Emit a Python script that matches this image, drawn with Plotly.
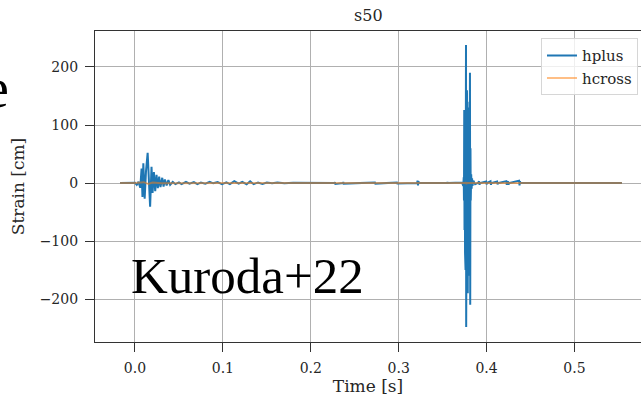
import plotly.graph_objects as go

# ---- data ----
hplus_t = [
    -0.017, -0.010, -0.004, 0.000, 0.002, 0.004, 0.006, 0.0075, 0.0085, 0.0095,
    0.011, 0.0125, 0.0144, 0.016, 0.0172, 0.0188, 0.020, 0.0215, 0.023, 0.0245,
    0.026, 0.0275, 0.029, 0.031, 0.0325, 0.034, 0.036, 0.038, 0.040,
    0.043, 0.046, 0.050, 0.053, 0.058, 0.062, 0.067, 0.071, 0.075, 0.080,
    0.085, 0.089, 0.094, 0.099, 0.104, 0.108, 0.113, 0.118, 0.122, 0.127,
    0.131, 0.135, 0.140, 0.145, 0.150, 0.156, 0.162, 0.170, 0.180, 0.190,
    0.2270, 0.2275, 0.2280, 0.2365, 0.2370, 0.2375, 0.2725, 0.2730, 0.2735,
    0.2975, 0.2980, 0.2985, 0.3210, 0.3215, 0.3220, 0.3225, 0.3230,
    0.355, 0.3555, 0.356, 0.370, 0.372,
    0.3735, 0.3740, 0.3743, 0.3746, 0.3749, 0.3752, 0.3755, 0.3758, 0.3761,
    0.3764, 0.3766, 0.3768, 0.3771, 0.3774, 0.3777, 0.3780, 0.3783, 0.3786,
    0.3789, 0.3792, 0.3795, 0.3798, 0.3801, 0.3805, 0.3808, 0.3811, 0.3814,
    0.3817, 0.3820, 0.3825, 0.3830, 0.3835, 0.3840, 0.3850, 0.3870, 0.3900,
    0.3915, 0.3920, 0.3925, 0.3995, 0.4000, 0.4005, 0.4045, 0.4050, 0.4055,
    0.4120, 0.4125, 0.4130, 0.4225, 0.4230, 0.4235, 0.4245, 0.4250, 0.4255,
    0.4370, 0.4375, 0.4380, 0.4385, 0.4450, 0.500, 0.554,
]
hplus_v = [
    0, 0, 0, 0.5, -3, 2, -8, 25, -24, 34,
    -27, 20, 52, -10, -41, 28, -17, 19, -14, 14,
    -9, 11, -7, 9, -6, 6, -4, 5, -3,
    2, -2, 1, -2, 2, -1, 1.5, -2, 1, -1,
    2, -0.5, 1.5, -2, 1, -2, 3, -1, 2, -2,
    3, -2, 1, -1.5, 1, -0.5, 1, -0.5, 0.3, 0,
    0, 1.5, -1.5, 0, 1.5, -1, 0, 1, -1,
    0, 1, -1, 0, 4, -4, 3, 0,
    0, 1.5, 0, 0, 1,
    -5, 10, -30, 126, -81, 90, -120, 140, -150,
    180, 238, -248, 150, -180, 160, -170, 140, -190,
    120, -150, 130, -160, 110, -140, 150, 190, -210,
    60, -30, 15, -10, 8, -5, 4, -2, 0,
    3, -3, 0, 2.5, -2.5, 0, 3, -3, 0,
    2.5, -2.5, 0, 3, -3, 0, 3, -3, 0,
    4, -4, 3, 0, 0, 0, 0,
]
hcross_t = [-0.017, 0.000, 0.010, 0.015, 0.020, 0.030, 0.100, 0.376, 0.3765, 0.377, 0.378, 0.554]
hcross_v = [0, 0, 1.5, -1.5, 1, -0.5, 0, 0, 1.5, -1.5, 0, 0]

x_ticks = [0.0, 0.1, 0.2, 0.3, 0.4, 0.5]
y_ticks = [-200, -100, 0, 100, 200]

SERIF = "DejaVu Serif"

fig = go.Figure()
fig.add_trace(go.Scatter(x=hplus_t, y=hplus_v, mode="lines", name="hplus",
                         line=dict(color="#1f77b4", width=2)))
fig.add_trace(go.Scatter(x=hcross_t, y=hcross_v, mode="lines", name="hcross",
                         line=dict(color="rgba(255,127,14,0.5)", width=2)))

axis_common = dict(
    showgrid=True, gridcolor="#b0b0b0", gridwidth=1, zeroline=False,
    showline=True, linecolor="#333333", linewidth=1.2,
    ticks="outside", ticklen=9, tickwidth=1, tickcolor="#333333",
    ticklabelstandoff=4,
    tickfont=dict(family=SERIF, size=14, color="#262626"),
)

fig.update_layout(
    width=641, height=396,
    margin=dict(l=95, r=0, t=31, b=54),
    paper_bgcolor="white", plot_bgcolor="white",
    showlegend=True,
    legend=dict(x=0.9945, xanchor="right", y=0.977, yanchor="top",
                bgcolor="rgba(255,255,255,0.8)", bordercolor="#d6d6d6", borderwidth=1,
                font=dict(family=SERIF, size=15, color="#262626")),
    xaxis=dict(range=[-0.0455, 0.5757], tickvals=x_ticks,
               ticktext=[f"{v:.1f}" for v in x_ticks], mirror=True,
               title=dict(text="Time [s]", font=dict(family=SERIF, size=17, color="#262626"), standoff=4),
               **axis_common),
    yaxis=dict(range=[-274, 262], tickvals=y_ticks,
               ticktext=[str(v).replace("-", "\u2212") for v in y_ticks],
               title=dict(text="Strain [cm]", font=dict(family=SERIF, size=17, color="#262626"), standoff=10),
               **axis_common),
    annotations=[
        dict(text="s50", xref="paper", yref="paper", x=0.5, y=1, yanchor="bottom", yshift=4,
             showarrow=False, font=dict(family=SERIF, size=16, color="#262626")),
        dict(text="Kuroda+22", xref="paper", yref="y", x=(129 - 95) / 546, xanchor="left",
             y=-160, yanchor="middle", showarrow=False,
             font=dict(family="Liberation Serif", size=51, color="black")),
        dict(text="e", xref="paper", yref="paper", x=(11 - 95) / 546, xanchor="right",
             y=(342 - 88) / 311, yanchor="middle", showarrow=False,
             font=dict(family="Liberation Serif", size=56, color="black")),
    ],
)

fig.write_html("out.html")
